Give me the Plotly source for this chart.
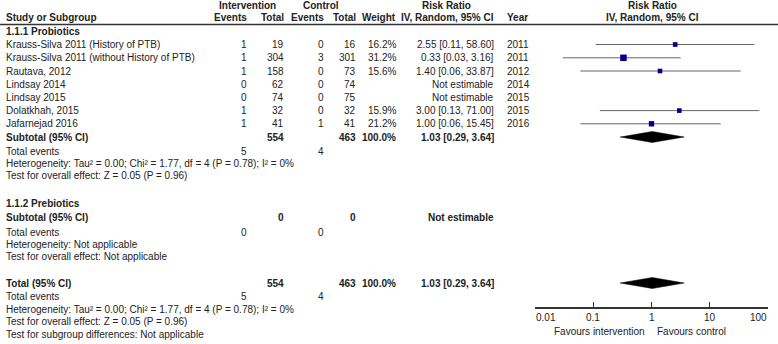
import math
import plotly.graph_objects as go

W, H = 778, 344

# ---------------- data ----------------
studies = ["Krauss-Silva 2011 (History of PTB)", "Krauss-Silva 2011 (without History of PTB)",
           "Rautava, 2012", "Lindsay 2014", "Lindsay 2015", "Dolatkhah, 2015", "Jafarnejad 2016"]
int_events = [1, 1, 1, 0, 0, 1, 1]
int_total = [19, 304, 158, 62, 74, 32, 41]
ctl_events = [0, 3, 0, 0, 0, 0, 1]
ctl_total = [16, 301, 73, 74, 75, 32, 41]
weights = [16.2, 31.2, 15.6, None, None, 15.9, 21.2]
rr = [2.55, 0.33, 1.40, None, None, 3.00, 1.00]
rr_lo = [0.11, 0.03, 0.06, None, None, 0.13, 0.06]
rr_hi = [58.60, 3.16, 33.87, None, None, 71.00, 15.45]
years = [2011, 2011, 2012, 2014, 2015, 2015, 2016]

sub1_totals = [554, 463]
sub1_events = [5, 4]
sub1_rr = [1.03, 0.29, 3.64]
sub2_totals = [0, 0]
sub2_events = [0, 0]
overall_totals = [554, 463]
overall_events = [5, 4]
overall_rr = [1.03, 0.29, 3.64]

het_text = "Heterogeneity: Tau\u00b2 = 0.00; Chi\u00b2 = 1.77, df = 4 (P = 0.78); I\u00b2 = 0%"
test_text = "Test for overall effect: Z = 0.05 (P = 0.96)"

tick_vals = [0.01, 0.1, 1, 10, 100]
tick_labels = ["0.01", "0.1", "1", "10", "100"]

# ---------------- layout (pixel rows / columns) ----------------
study_rows = [44.5, 57.8, 71, 84.2, 97.4, 110.6, 123.8]
Y_HDR1, Y_HDR2, Y_LINE = 5.5, 17, 24.5
Y_G1, Y_SUB1, Y_TE1, Y_HET1, Y_TEST1 = 31.5, 137, 151.5, 163.5, 175.5
Y_G2, Y_SUB2, Y_TE2, Y_HET2, Y_TEST2 = 203.5, 217.5, 232, 244, 256
Y_TOT, Y_TE3, Y_HET3, Y_TEST3, Y_SGD = 283, 296.5, 309, 321.5, 334
Y_AXIS = 308

X_STUDY = 5
X_IE, X_IT, X_CE, X_CT, X_W, X_RR, X_YR = 248, 285, 325, 357, 397, 495, 506
PLOT_L, PLOT_R = 535, 768

FONT = "Liberation Sans, Arial, sans-serif"
TXT = "#222222"
FS = 10

fig = go.Figure()
ann = []


def t(x, y, s, anchor="left", bold=False, size=FS):
    ann.append(dict(x=x / W, y=y, xref="paper", yref="y", text=("<b>%s</b>" % s) if bold else s,
                    showarrow=False, xanchor=anchor, yanchor="middle",
                    font=dict(family=FONT, size=size, color=TXT), borderpad=0))


# headers
t(218, Y_HDR1, "Intervention", bold=True)
t(321, Y_HDR1, "Control", "center", bold=True)
t(446, Y_HDR1, "Risk Ratio", "center", bold=True)
t(652, Y_HDR1, "Risk Ratio", "center", bold=True)
t(X_STUDY, Y_HDR2, "Study or Subgroup", bold=True)
t(X_IE, Y_HDR2, "Events", "right", bold=True)
t(X_IT, Y_HDR2, "Total", "right", bold=True)
t(X_CE, Y_HDR2, "Events", "right", bold=True)
t(X_CT, Y_HDR2, "Total", "right", bold=True)
t(X_W, Y_HDR2, "Weight", "right", bold=True)
t(X_RR, Y_HDR2, "IV, Random, 95% CI", "right", bold=True)
t(X_YR, Y_HDR2, "Year", bold=True)
t(652, Y_HDR2, "IV, Random, 95% CI", "center", bold=True)

# group 1
t(X_STUDY, Y_G1, "1.1.1 Probiotics", bold=True)
for i, name in enumerate(studies):
    y = study_rows[i]
    t(X_STUDY, y, name)
    t(X_IE, y, str(int_events[i]), "right")
    t(X_IT, y, str(int_total[i]), "right")
    t(X_CE, y, str(ctl_events[i]), "right")
    t(X_CT, y, str(ctl_total[i]), "right")
    if weights[i] is not None:
        t(X_W, y, "%.1f%%" % weights[i], "right")
        t(X_RR, y, "%.2f [%.2f, %.2f]" % (rr[i], rr_lo[i], rr_hi[i]), "right")
    else:
        t(X_RR, y, "Not estimable", "right")
    t(X_YR, y, str(years[i]))

t(X_STUDY, Y_SUB1, "Subtotal (95% CI)", bold=True)
t(X_IT, Y_SUB1, str(sub1_totals[0]), "right", bold=True)
t(X_CT, Y_SUB1, str(sub1_totals[1]), "right", bold=True)
t(X_W, Y_SUB1, "100.0%", "right", bold=True)
t(X_RR, Y_SUB1, "%.2f [%.2f, %.2f]" % tuple(sub1_rr), "right", bold=True)
t(X_STUDY, Y_TE1, "Total events")
t(X_IE, Y_TE1, str(sub1_events[0]), "right")
t(X_CE, Y_TE1, str(sub1_events[1]), "right")
t(X_STUDY, Y_HET1, het_text)
t(X_STUDY, Y_TEST1, test_text)

# group 2
t(X_STUDY, Y_G2, "1.1.2 Prebiotics", bold=True)
t(X_STUDY, Y_SUB2, "Subtotal (95% CI)", bold=True)
t(X_IT, Y_SUB2, str(sub2_totals[0]), "right", bold=True)
t(X_CT, Y_SUB2, str(sub2_totals[1]), "right", bold=True)
t(X_RR, Y_SUB2, "Not estimable", "right", bold=True)
t(X_STUDY, Y_TE2, "Total events")
t(X_IE, Y_TE2, str(sub2_events[0]), "right")
t(X_CE, Y_TE2, str(sub2_events[1]), "right")
t(X_STUDY, Y_HET2, "Heterogeneity: Not applicable")
t(X_STUDY, Y_TEST2, "Test for overall effect: Not applicable")

# overall
t(X_STUDY, Y_TOT, "Total (95% CI)", bold=True)
t(X_IT, Y_TOT, str(overall_totals[0]), "right", bold=True)
t(X_CT, Y_TOT, str(overall_totals[1]), "right", bold=True)
t(X_W, Y_TOT, "100.0%", "right", bold=True)
t(X_RR, Y_TOT, "%.2f [%.2f, %.2f]" % tuple(overall_rr), "right", bold=True)
t(X_STUDY, Y_TE3, "Total events")
t(X_IE, Y_TE3, str(overall_events[0]), "right")
t(X_CE, Y_TE3, str(overall_events[1]), "right")
t(X_STUDY, Y_HET3, het_text)
t(X_STUDY, Y_TEST3, test_text)
t(X_STUDY, Y_SGD, "Test for subgroup differences: Not applicable")

# tick labels on log axis
anchors = ["left", "center", "center", "center", "right"]
for v, lab, a in zip(tick_vals, tick_labels, anchors):
    ann.append(dict(x=math.log10(v), y=Y_AXIS + 9.5, xref="x", yref="y", text=lab, showarrow=False,
                    xanchor=a, yanchor="middle", font=dict(family=FONT, size=FS, color=TXT), borderpad=0))
ann.append(dict(x=math.log10(1) - 0.1, y=Y_AXIS + 23, xref="x", yref="y", text="Favours intervention",
                showarrow=False, xanchor="right", yanchor="middle",
                font=dict(family=FONT, size=FS, color=TXT), borderpad=0))
ann.append(dict(x=math.log10(1) + 0.07, y=Y_AXIS + 23, xref="x", yref="y", text="Favours control",
                showarrow=False, xanchor="left", yanchor="middle",
                font=dict(family=FONT, size=FS, color=TXT), borderpad=0))

# ---------------- forest marks ----------------
LINE_C = "#666666"
for i in range(len(studies)):
    if rr[i] is None:
        continue
    fig.add_trace(go.Scatter(x=[rr_lo[i], rr_hi[i]], y=[study_rows[i]] * 2, mode="lines",
                             line=dict(color=LINE_C, width=1), hoverinfo="skip", showlegend=False))

pts = [i for i in range(len(studies)) if rr[i] is not None]
fig.add_trace(go.Scatter(x=[rr[i] for i in pts], y=[study_rows[i] for i in pts], mode="markers",
                         marker=dict(symbol="square", color="#00008b", opacity=1,
                                     size=[6.5 * math.sqrt(weights[i] / 31.2) for i in pts],
                                     line=dict(width=0)),
                         hoverinfo="skip", showlegend=False))


def diamond(vals, y, hh=5.5):
    est, lo, hi = vals
    fig.add_trace(go.Scatter(x=[lo, est, hi, est, lo], y=[y, y - hh, y, y + hh, y], mode="lines",
                             fill="toself", fillcolor="black", line=dict(color="black", width=0.5),
                             hoverinfo="skip", showlegend=False))


diamond(sub1_rr, Y_SUB1)
diamond(overall_rr, Y_TOT)

shapes = [
    dict(type="line", xref="paper", yref="y", x0=0, x1=1, y0=Y_LINE, y1=Y_LINE,
         line=dict(color="#333333", width=1.5)),
    dict(type="line", xref="x", yref="y", x0=0, x1=0, y0=Y_LINE, y1=Y_AXIS,
         line=dict(color="#666666", width=1)),
]

fig.update_layout(
    width=W, height=H, margin=dict(l=0, r=0, t=0, b=0),
    paper_bgcolor="white", plot_bgcolor="white",
    annotations=ann, shapes=shapes,
    xaxis=dict(type="log", range=[-2, 2], domain=[PLOT_L / W, PLOT_R / W],
               anchor="free", position=1 - Y_AXIS / H, side="bottom",
               showgrid=False, zeroline=False, showline=True, linecolor="#333333", linewidth=1.5,
               ticks="inside", ticklen=5, tickwidth=1, tickcolor="#333333",
               tickvals=tick_vals, showticklabels=False),
    yaxis=dict(range=[H, 0], domain=[0, 1], visible=False, showgrid=False, zeroline=False),
    font=dict(family=FONT, size=FS, color=TXT),
)

fig.write_html("out.html", config={"displayModeBar": False},
               post_script="document.body.style.margin='0';document.body.style.overflow='hidden';")
